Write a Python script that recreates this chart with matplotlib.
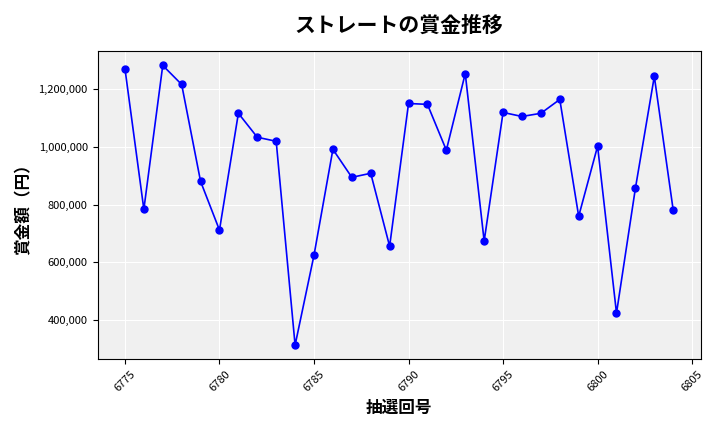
import matplotlib
matplotlib.use("Agg")
import matplotlib.pyplot as plt
from matplotlib.ticker import FuncFormatter

plt.rcParams['font.family'] = ['Noto Sans CJK JP', 'DejaVu Sans']

# draw numbers and prize amounts
draws = list(range(6775, 6805))
prizes = [1272000, 784000, 1283000, 1217000, 881000, 712000, 1117000, 1034000,
          1020000, 313000, 625000, 992000, 895000, 909000, 656000, 1151000,
          1148000, 989000, 1255000, 674000, 1120000, 1106000, 1117000, 1165000,
          760000, 1003000, 424000, 857000, 1245000, 781000]

fig, ax = plt.subplots(figsize=(7.2, 4.32), dpi=100)
ax.set_facecolor('#f0f0f0')
ax.grid(True, color='white', linewidth=0.8)
ax.set_axisbelow(True)

ax.plot(draws, prizes, color='blue', marker='o', markersize=5, linewidth=1.2)

ax.set_title('ストレートの賞金推移', fontsize=15, fontweight='bold', pad=14)
ax.set_xlabel('抽選回号', fontsize=12, fontweight='bold')
ax.set_ylabel('賞金額（円）', fontsize=12, fontweight='bold')
ax.yaxis.set_major_formatter(FuncFormatter(lambda v, p: f'{int(v):,}'))
ax.tick_params(axis='x', labelrotation=45, labelsize=8)
ax.tick_params(axis='y', labelsize=8)

fig.tight_layout()
fig.savefig('out.png')
